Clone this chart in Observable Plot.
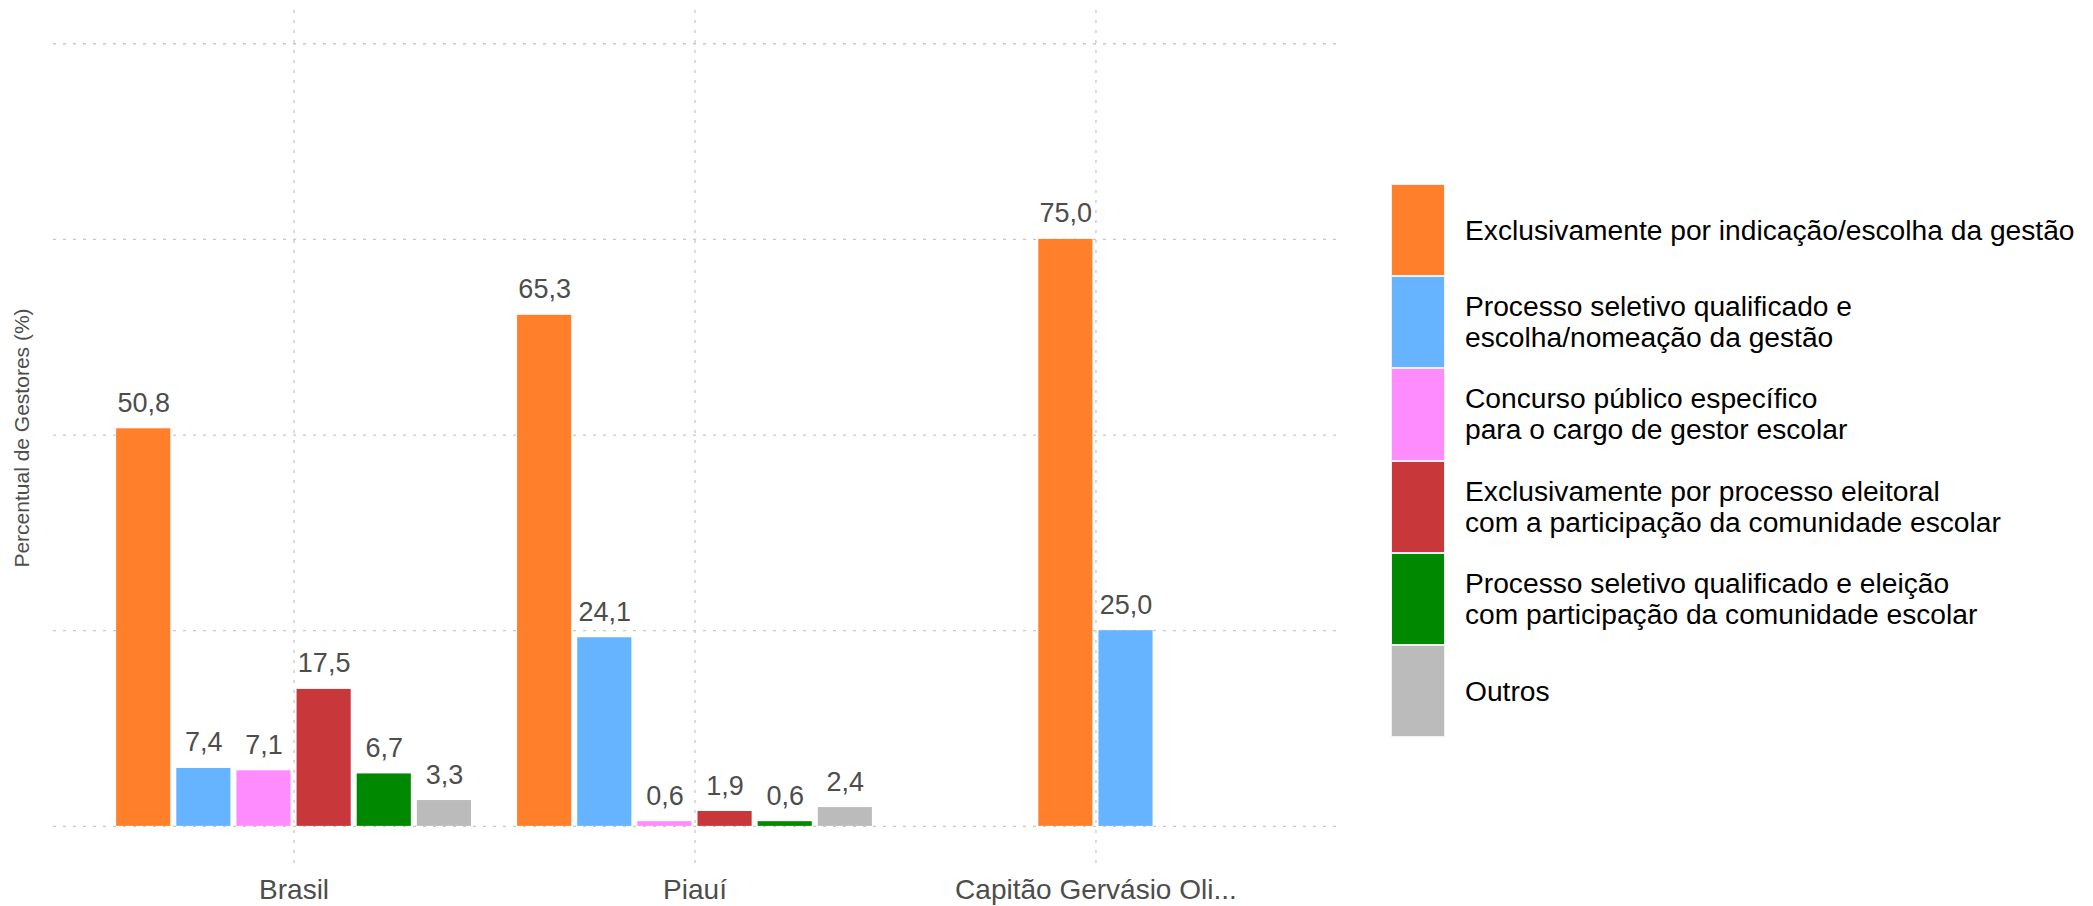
<!DOCTYPE html>
<html>
<head>
<meta charset="utf-8">
<script src="https://cdn.jsdelivr.net/npm/d3@7"></script>
<script src="https://cdn.jsdelivr.net/npm/@observablehq/plot@0.6"></script>
<style>
  body { margin: 0; background: #fff; font-family: "Liberation Sans", Arial, sans-serif; }
  #wrap { position: relative; width: 2093px; height: 906px; overflow: hidden; }
  #chart { position: absolute; left: 0; top: 0; }
  #legend { position: absolute; left: 1391px; top: 184px; }
  .item { display: flex; align-items: center; height: 92.2px; }
  .sw { width: 54px; height: 92.2px; box-sizing: border-box; border: 1.5px solid #efefef; flex: none; }
  .lab { margin-left: 20px; font-size: 28.2px; line-height: 31px; color: #000; white-space: nowrap; }
</style>
</head>
<body>
<div id="wrap">
  <div id="chart"></div>
  <div id="legend"></div>
</div>
<script>
// ---- data ----
const locations = ["Brasil", "Piauí", "Capitão Gervásio Oli..."];
const categories = [
  "Exclusivamente por indicação/escolha da gestão",
  "Processo seletivo qualificado e\nescolha/nomeação da gestão",
  "Concurso público específico\npara o cargo de gestor escolar",
  "Exclusivamente por processo eleitoral\ncom a participação da comunidade escolar",
  "Processo seletivo qualificado e eleição\ncom participação da comunidade escolar",
  "Outros"
];
const colors = ["#FF7F2A", "#66B3FF", "#FF8CFF", "#C8373A", "#008800", "#BBBBBB"];
const valuesBrasil = [50.8, 7.4, 7.1, 17.5, 6.7, 3.3];
const valuesPiaui = [65.3, 24.1, 0.6, 1.9, 0.6, 2.4];
const valuesCapitao = [75.0, 25.0, null, null, null, null];
const gridValues = [0, 25, 50, 75, 100];
const yTitle = "Percentual de Gestores (%)";

// ---- build table (dodged positions in data units) ----
const seriesByLoc = [valuesBrasil, valuesPiaui, valuesCapitao];
const slot = 0.15;
const rows = [];
seriesByLoc.forEach((vals, li) => {
  const present = vals.map((v, ci) => ({v, ci})).filter(d => d.v != null);
  const n = present.length;
  present.forEach((d, k) => {
    const c = li + 1 + (k - (n - 1) / 2) * slot;
    rows.push({loc: locations[li], cat: categories[d.ci], color: colors[d.ci], value: d.v,
               x1: c - slot / 2, x2: c + slot / 2, xc: c});
  });
});
const fmt = v => d3.format(".1f")(v).replace(".", ",");

const chart = Plot.plot({
  width: 1360,
  height: 906,
  marginLeft: 53,
  marginRight: 24,
  marginTop: 10,
  marginBottom: 41,
  style: {fontFamily: "'Liberation Sans', Arial, sans-serif", background: "#fff"},
  x: {type: "linear", domain: [0.4, 3.6]},
  y: {domain: [-5, 104.25]},
  marks: [
    Plot.gridX([1, 2, 3], {stroke: "#c8c8c8", strokeOpacity: 1, strokeWidth: 1.3, strokeDasharray: "3,7"}),
    Plot.gridY(gridValues, {stroke: "#c8c8c8", strokeOpacity: 1, strokeWidth: 1.3, strokeDasharray: "3,7"}),
    Plot.rectY(rows, {x1: "x1", x2: "x2", y1: 0, y2: "value", fill: "color", insetLeft: 3, insetRight: 3}),
    Plot.text(rows, {x: "xc", y: "value", text: d => fmt(d.value), lineAnchor: "bottom", dy: -17,
                     fontSize: 27, fill: "#4d4d4d"}),
    Plot.axisX([1, 2, 3], {tickFormat: i => locations[i - 1], tickSize: 0, tickPadding: 14,
                           fontSize: 28, color: "#4d4d4d", label: null}),
    Plot.axisY([], {label: null, tickSize: 0}),
    Plot.text([yTitle], {frameAnchor: "left", textAnchor: "middle", rotate: -90, dx: -31,
                         fontSize: 21, fill: "#4d4d4d"})
  ]
});
document.getElementById("chart").appendChild(chart);

const legend = document.getElementById("legend");
categories.forEach((c, i) => {
  const item = document.createElement("div");
  item.className = "item";
  const sw = document.createElement("div");
  sw.className = "sw";
  sw.style.background = colors[i];
  const lab = document.createElement("div");
  lab.className = "lab";
  lab.innerHTML = c.split("\n").join("<br>");
  item.appendChild(sw);
  item.appendChild(lab);
  legend.appendChild(item);
});
</script>
</body>
</html>
